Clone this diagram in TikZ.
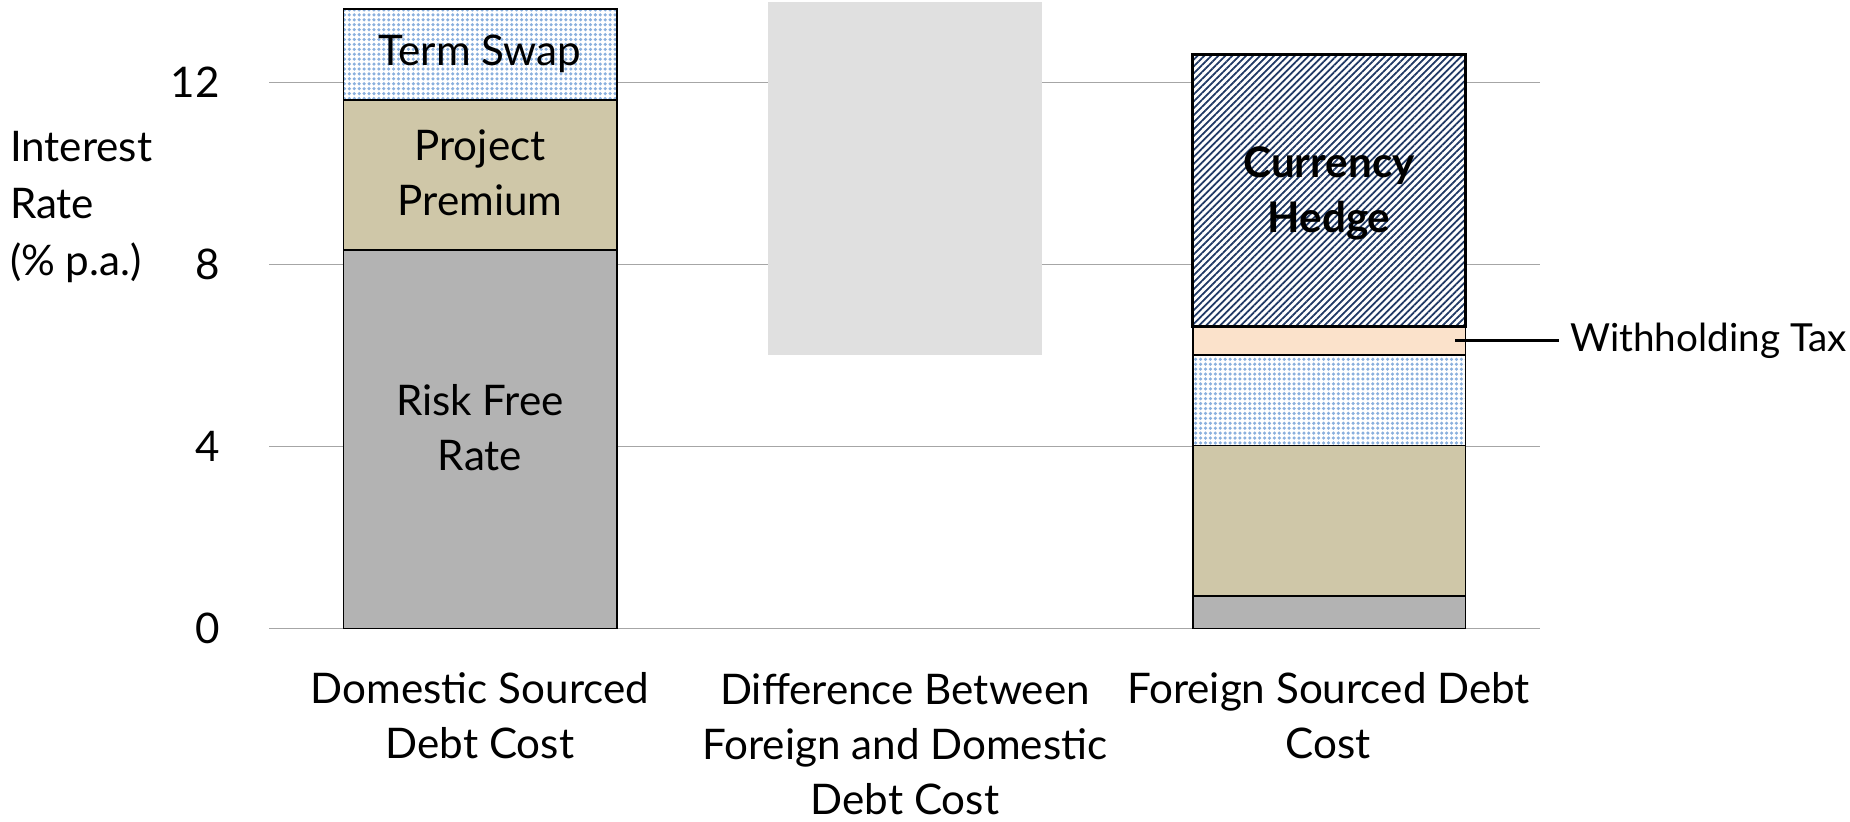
\documentclass[tikz,border=0pt]{standalone}
\usepackage{fontspec}
\setmainfont{Lato}
\usetikzlibrary{patterns.meta}
\definecolor{riskgray}{HTML}{B3B3B3}
\definecolor{premtan}{HTML}{CFC7A8}
\definecolor{swapblue}{HTML}{8AB0DE}
\definecolor{taxpeach}{HTML}{FBE2CB}
\definecolor{hedgeblue}{HTML}{1F3864}
\definecolor{diffgray}{HTML}{E0E0E0}
\definecolor{gridgray}{HTML}{A6A6A6}
\tikzset{
  seg/.style={draw=black, line width=0.45pt},
  riskseg/.style={seg, fill=riskgray},
  premseg/.style={seg, fill=premtan},
  swapseg/.style={seg, preaction={fill=white},
    pattern={Dots[distance=1.4pt, radius=0.5pt]}, pattern color=swapblue},
  taxseg/.style={seg, fill=taxpeach},
  hedgeseg/.style={draw=black, line width=0.9pt, preaction={fill=white},
    pattern={Lines[angle=45, distance=1.4pt, line width=0.5pt]}, pattern color=hedgeblue},
  barlab/.style={align=center, inner sep=0pt},
  axlab/.style={align=center}
}
\begin{document}
\begin{tikzpicture}[x=1cm, y=0.4552cm, font=\fontsize{12}{15.7}\selectfont]
  \useasboundingbox (0,-4.244) rectangle (18.5,13.81);
  % grid lines and tick labels
  \foreach \v in {0,4,8,12}
    { \draw[gridgray, line width=0.45pt] (2.69,\v) -- (15.40,\v);
      \node[anchor=east] (tick\v) at (2.32,\v) {\v}; }
  \node[anchor=west, align=left, inner sep=0pt, font=\fontsize{12}{16.2}\selectfont] (ytitle) at (0.094,9.26) {Interest\\Rate\\(\% p.a.)};
  % domestic sourced debt
  \draw[riskseg] (3.433,0) rectangle (6.17,8.32);
  \draw[premseg] (3.433,8.32) rectangle (6.17,11.61);
  \draw[swapseg] (3.433,11.61) rectangle (6.17,13.61);
  \node[barlab] (swaplab) at (4.80,12.62) {Term Swap};
  \node[barlab] (premlab) at (4.80,10.02) {Project\\Premium};
  \node[barlab] (risklab) at (4.80,4.41) {Risk Free\\Rate};
  % difference
  \fill[diffgray] (7.68,6.01) rectangle (10.418,13.76);
  % foreign sourced debt
  \draw[riskseg] (11.928,0) rectangle (14.653,0.72);
  \draw[premseg] (11.928,0.72) rectangle (14.653,4.02);
  \draw[swapseg] (11.928,4.02) rectangle (14.653,6.01);
  \draw[taxseg] (11.928,6.01) rectangle (14.653,6.63);
  \draw[hedgeseg] (11.928,6.63) rectangle (14.653,12.62);
  \node[barlab, font=\fontsize{12}{15.7}\selectfont\bfseries] (hedgelab) at (13.29,9.57) {Currency\\Hedge};
  \coordinate (taxpt) at (14.55,6.33);
  \node[anchor=west, inner sep=3pt, font=\fontsize{11}{13}\selectfont] (taxlab) at (15.59,6.33) {Withholding Tax};
  \draw[line width=0.6pt] (taxpt) -- (taxlab.west);
  % category labels
  \node[axlab] (domlab) at (4.80,-1.905) {Domestic Sourced\\Debt Cost};
  \node[axlab] (difflab) at (9.05,-2.54) {Difference Between\\Foreign and Domestic\\Debt Cost};
  \node[axlab] (forlab) at (13.285,-1.905) {Foreign Sourced Debt\\Cost};
\end{tikzpicture}
\end{document}
